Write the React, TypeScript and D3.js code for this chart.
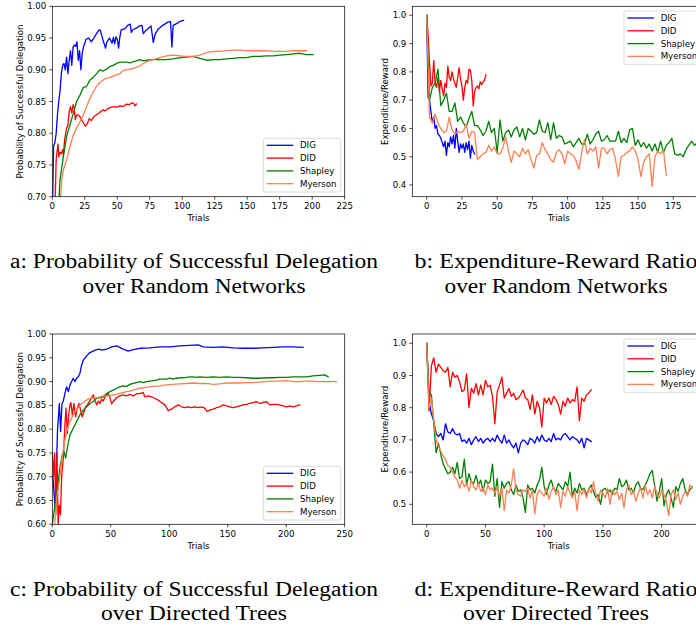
import React from "react";
import * as d3 from "d3";

type Pt = [number, number];

const seriesNames = ["DIG", "DID", "Shapley", "Myerson"];
const seriesColors = ["#0000ff", "#ff0000", "#008000", "#ff7f50"];

// (a) probability of successful delegation, random networks: [trial, value]
const aDig: Pt[] = [
  [0, 0.66], [1, 0.78], [2, 0.785], [3, 0.8], [4, 0.83], [5, 0.85], [6, 0.868], [7, 0.895], [8, 0.907], [9, 0.91],
  [10, 0.9], [11, 0.92], [12, 0.894], [13, 0.915], [14, 0.93], [15, 0.907], [16, 0.936], [17, 0.939], [18, 0.937],
  [19, 0.944], [20, 0.915], [21, 0.93], [22, 0.9], [23, 0.926], [24, 0.936], [26, 0.948], [28, 0.95], [30, 0.944],
  [32, 0.95], [34, 0.957], [36, 0.963], [37, 0.962], [39, 0.947], [41, 0.934], [42, 0.944], [44, 0.95], [46, 0.942],
  [47, 0.951], [48, 0.941], [49, 0.952], [50, 0.948], [51, 0.934], [52, 0.952], [53, 0.963], [56, 0.965], [58, 0.97],
  [60, 0.972], [60.8, 0.959], [62, 0.963], [65, 0.966], [67, 0.969], [69, 0.97], [70, 0.957], [72, 0.962], [76, 0.969],
  [77.7, 0.943], [79, 0.955], [81, 0.963], [85, 0.97], [89, 0.975], [91, 0.976], [92, 0.936], [93, 0.97], [96, 0.973],
  [98, 0.976], [101, 0.978],
];
const aDid: Pt[] = [
  [2, 0.68], [3, 0.76], [4.4, 0.783], [5, 0.763], [6, 0.77], [7, 0.768], [8, 0.774], [8.5, 0.765], [9.5, 0.79],
  [11, 0.808], [12, 0.812], [13, 0.834], [14, 0.842], [15, 0.832], [16, 0.845], [17, 0.838], [17.7, 0.821],
  [18.7, 0.829], [20, 0.829], [22, 0.824], [23.5, 0.818], [25.4, 0.811], [27, 0.815], [28.4, 0.823], [30, 0.82],
  [32, 0.826], [34, 0.829], [36, 0.832], [39, 0.837], [40.5, 0.835], [43, 0.839], [45.6, 0.841], [48, 0.842],
  [50, 0.841], [52, 0.843], [54.6, 0.842], [57.2, 0.846], [59, 0.845], [61.8, 0.848], [63, 0.846], [63.6, 0.843],
  [64.8, 0.846],
];
const aShapley: Pt[] = [
  [5, 0.69], [5.9, 0.726], [8.5, 0.763], [11, 0.795], [13.6, 0.813], [16.1, 0.831], [18.7, 0.85], [21.3, 0.86],
  [23.8, 0.872], [26.4, 0.874], [29, 0.884], [31.5, 0.888], [34.1, 0.894], [36.6, 0.9], [39.2, 0.898], [41.8, 0.901],
  [44.3, 0.905], [46.9, 0.907], [49.5, 0.91], [52, 0.912], [57, 0.912], [60, 0.911], [62.3, 0.913], [64.8, 0.914],
  [67.4, 0.916], [70, 0.914], [72.5, 0.915], [77.6, 0.916], [82.8, 0.916], [88, 0.916], [93, 0.917], [98.2, 0.919],
  [103.3, 0.92], [108.4, 0.921], [113.5, 0.918], [118.7, 0.915], [123.8, 0.916], [128.9, 0.916], [134, 0.917],
  [139.2, 0.918], [144.3, 0.919], [149.4, 0.919], [154.5, 0.921], [159.7, 0.921], [164.8, 0.922], [170, 0.922],
  [175.1, 0.923], [180.2, 0.924], [185.3, 0.925], [190.4, 0.926], [195.5, 0.924], [200.7, 0.924],
];
const aMyerson: Pt[] = [
  [6, 0.69], [7.2, 0.726], [8.5, 0.742], [11, 0.758], [13.6, 0.779], [16.1, 0.797], [18.7, 0.808], [21.3, 0.818],
  [23.8, 0.829], [26.4, 0.842], [29, 0.855], [31.5, 0.865], [34.1, 0.874], [36.6, 0.88], [39.2, 0.884], [41.8, 0.887],
  [44.3, 0.888], [46.9, 0.89], [49.5, 0.892], [52, 0.894], [54.6, 0.899], [57.2, 0.9], [62.3, 0.902], [67.4, 0.906],
  [72.5, 0.913], [77.6, 0.916], [82.8, 0.919], [87.9, 0.922], [93, 0.923], [98.2, 0.922], [103.3, 0.921],
  [108.4, 0.921], [113.5, 0.923], [118.7, 0.927], [123.8, 0.929], [128.9, 0.929], [134, 0.93], [139.2, 0.931],
  [144.3, 0.931], [149.4, 0.93], [154.5, 0.93], [159.7, 0.93], [164.8, 0.93], [170, 0.929], [175.1, 0.929],
  [180.2, 0.929], [185.3, 0.93], [190.4, 0.93], [195.5, 0.93],
];

// (b) expenditure/reward, random networks: one value per trial step
const bDig = [
  1.0, 0.71, 0.7, 0.66, 0.62, 0.64, 0.6, 0.61, 0.58, 0.575, 0.565, 0.55, 0.535, 0.555, 0.505, 0.55, 0.535, 0.57,
  0.545, 0.575, 0.53, 0.6, 0.555, 0.515, 0.545, 0.53, 0.545, 0.515, 0.55, 0.525, 0.555, 0.495, 0.54, 0.52, 0.51,
];
const bDid = [
  1.0, 0.93, 0.83, 0.75, 0.76, 0.84, 0.76, 0.745, 0.78, 0.73, 0.77, 0.74, 0.715, 0.76, 0.745, 0.82, 0.78, 0.77, 0.8,
  0.775, 0.76, 0.745, 0.78, 0.815, 0.775, 0.75, 0.7, 0.745, 0.77, 0.76, 0.81, 0.805, 0.77, 0.68, 0.73, 0.745, 0.75,
  0.74, 0.765, 0.755, 0.765, 0.77, 0.79,
];
const bShapley = [
  1.0, 0.7, 0.745, 0.76, 0.81, 0.68, 0.7, 0.725, 0.66, 0.66,
  0.69, 0.625, 0.64, 0.62, 0.605, 0.635, 0.66, 0.61, 0.61, 0.595,
  0.575, 0.59, 0.625, 0.585, 0.6, 0.515, 0.63, 0.555, 0.585, 0.595,
  0.57, 0.595, 0.605, 0.57, 0.6, 0.56, 0.6, 0.59, 0.58, 0.585,
  0.63, 0.59, 0.585, 0.62, 0.56, 0.62, 0.565, 0.575, 0.57, 0.545,
  0.55, 0.555, 0.535, 0.55, 0.565, 0.545, 0.545, 0.58, 0.545, 0.56,
  0.58, 0.59, 0.555, 0.56, 0.575, 0.555, 0.555, 0.555, 0.59, 0.55,
  0.565, 0.55, 0.595, 0.6, 0.54, 0.56, 0.535, 0.55, 0.53, 0.545,
  0.52, 0.545, 0.515, 0.555, 0.515, 0.54, 0.55, 0.565, 0.51, 0.505,
  0.51, 0.5, 0.525, 0.54, 0.555, 0.54, 0.55, 0.53, 0.545, 0.54,
];
const bMyerson = [
  1.0, 0.64, 0.62, 0.65, 0.62, 0.6, 0.585, 0.59, 0.64, 0.595,
  0.58, 0.59, 0.585, 0.59, 0.615, 0.565, 0.59, 0.585, 0.49, 0.5,
  0.51, 0.515, 0.54, 0.52, 0.535, 0.51, 0.51, 0.53, 0.57, 0.52,
  0.48, 0.52, 0.51, 0.5, 0.53, 0.51, 0.525, 0.49, 0.46, 0.505,
  0.51, 0.55, 0.525, 0.51, 0.49, 0.48, 0.515, 0.525, 0.51, 0.475,
  0.52, 0.51, 0.505, 0.485, 0.455, 0.515, 0.56, 0.51, 0.53, 0.52,
  0.535, 0.46, 0.53, 0.53, 0.51, 0.525, 0.53, 0.49, 0.43, 0.5,
  0.505, 0.515, 0.52, 0.535, 0.52, 0.49, 0.43, 0.48, 0.5, 0.51,
  0.395, 0.5, 0.52, 0.51, 0.525, 0.435,
];
const bStepShort = 1;
const bStepLong = 2;

// (c) probability of successful delegation, directed trees: [trial, value]
const cDig: Pt[] = [
  [0.5, 0.7], [2.3, 0.637], [3.5, 0.72], [4.5, 0.8], [6, 0.854], [7.1, 0.795], [8.3, 0.854], [9.4, 0.859],
  [10.8, 0.875], [12.2, 0.889], [13.7, 0.879], [15.1, 0.893], [16.5, 0.9], [17.9, 0.907], [19.4, 0.9], [20.8, 0.907],
  [22.2, 0.91], [23.6, 0.917], [25.1, 0.935], [26.5, 0.945], [29.3, 0.954], [32.2, 0.961], [35, 0.964], [37.9, 0.967],
  [40.7, 0.968], [42.1, 0.966], [46.4, 0.968], [50.7, 0.973], [55, 0.975], [57.8, 0.972], [60.6, 0.968],
  [64.9, 0.964], [69.2, 0.967], [74.9, 0.97], [83.4, 0.971], [92, 0.973], [100.5, 0.973], [109, 0.975],
  [117.5, 0.976], [124.7, 0.977], [129, 0.973], [137.5, 0.972], [146, 0.973], [154.6, 0.971], [163.1, 0.97],
  [171.7, 0.97], [180.2, 0.971], [188.8, 0.972], [197.3, 0.973], [205.9, 0.973], [214.4, 0.972],
];
const cDid: Pt[] = [
  [0, 0.75], [1, 0.7], [2, 0.75], [3, 0.62], [4, 0.75], [5, 0.6], [6, 0.64], [7, 0.62], [8, 0.7], [9.4, 0.739],
  [10.8, 0.809], [11.7, 0.844], [12.8, 0.791], [14, 0.83], [15.1, 0.851], [15.9, 0.856], [17.1, 0.83], [18.5, 0.854],
  [19.9, 0.826], [21.4, 0.844], [22.8, 0.854], [24.2, 0.84], [25.6, 0.826], [27, 0.836], [28.5, 0.847], [29.9, 0.85],
  [31.6, 0.858], [33.6, 0.866], [35, 0.872], [36.4, 0.861], [37.9, 0.851], [39.3, 0.859], [40.7, 0.854],
  [42.1, 0.863], [43.6, 0.859], [45, 0.868], [46.4, 0.872], [47.8, 0.875], [49.3, 0.866], [50.7, 0.853],
  [52.1, 0.858], [55, 0.866], [57.8, 0.87], [60.6, 0.872], [63.4, 0.87], [66.3, 0.873], [69.2, 0.87], [72, 0.874],
  [74.9, 0.875], [77.7, 0.877], [79.1, 0.868], [82, 0.87], [84.8, 0.868], [87.7, 0.865], [90.5, 0.861],
  [93.4, 0.856], [96.2, 0.851], [99.1, 0.839], [101.9, 0.842], [104.8, 0.847], [107.6, 0.851], [110.5, 0.847],
  [113.3, 0.845], [116.2, 0.847], [119, 0.845], [121.9, 0.847], [124.7, 0.845], [127.6, 0.847], [130.4, 0.844],
  [132.4, 0.837], [134.7, 0.84], [137.5, 0.842], [140.4, 0.845], [143.2, 0.847], [146.1, 0.851], [148.9, 0.849],
  [151.8, 0.847], [154.6, 0.845], [157.5, 0.847], [160.3, 0.849], [163.1, 0.851], [166, 0.852], [168.8, 0.854],
  [171.7, 0.856], [174.5, 0.858], [177.4, 0.854], [180.2, 0.856], [183.1, 0.858], [185.9, 0.851], [188.8, 0.852],
  [191.6, 0.852], [194.5, 0.851], [197.3, 0.849], [200.2, 0.847], [203, 0.849], [205.9, 0.847], [208.7, 0.849],
  [211.6, 0.851],
];
const cShapley: Pt[] = [
  [0, 0.6], [2.3, 0.64], [4.3, 0.676], [6.5, 0.718], [8.5, 0.746], [10, 0.753], [11.4, 0.739], [12.8, 0.76],
  [15.1, 0.788], [17.9, 0.802], [20.8, 0.816], [23.6, 0.83], [26.5, 0.84], [29.3, 0.847], [32.2, 0.854], [35, 0.858],
  [37.9, 0.865], [40.7, 0.866], [43.6, 0.868], [46.4, 0.875], [49.3, 0.879], [52.1, 0.882], [55, 0.886],
  [57.8, 0.889], [60.6, 0.891], [63.4, 0.89], [66.3, 0.894], [69.2, 0.896], [72, 0.898], [74.9, 0.9], [77.7, 0.898],
  [80.6, 0.9], [83.4, 0.901], [86.3, 0.902], [89.1, 0.903], [92, 0.905], [94.8, 0.905], [97.6, 0.905],
  [100.5, 0.907], [103.3, 0.905], [106.2, 0.907], [109, 0.908], [111.9, 0.908], [114.7, 0.909], [117.5, 0.91],
  [120.4, 0.91], [123.2, 0.909], [126.1, 0.91], [131.8, 0.909], [137.5, 0.91], [143.2, 0.909], [148.9, 0.91],
  [154.6, 0.909], [160.3, 0.909], [166, 0.908], [171.7, 0.907], [177.4, 0.907], [183.1, 0.908], [188.8, 0.908],
  [194.5, 0.909], [200.2, 0.909], [205.9, 0.91], [211.6, 0.91], [217.3, 0.91], [223, 0.912], [228.6, 0.913],
  [232.9, 0.914], [235.8, 0.91],
];
const cMyerson: Pt[] = [
  [2, 0.6], [3.7, 0.655], [6, 0.69], [8, 0.732], [10, 0.767], [12.2, 0.795], [15.1, 0.816], [17.9, 0.83],
  [20.8, 0.84], [23.6, 0.851], [26.5, 0.856], [29.3, 0.861], [32.2, 0.865], [35, 0.865], [37.9, 0.866],
  [40.7, 0.868], [43.6, 0.87], [46.4, 0.87], [49.3, 0.87], [52.1, 0.872], [55, 0.873], [57.8, 0.875], [60.6, 0.877],
  [63.4, 0.879], [66.3, 0.88], [69.2, 0.882], [74.9, 0.886], [80.6, 0.888], [86.3, 0.89], [92, 0.891],
  [97.6, 0.893], [103.3, 0.894], [109, 0.895], [114.7, 0.896], [120.4, 0.897], [126.1, 0.896], [131.8, 0.896],
  [137.5, 0.894], [143.2, 0.895], [148.9, 0.897], [154.6, 0.897], [160.3, 0.897], [166, 0.898], [171.7, 0.898],
  [177.4, 0.899], [183.1, 0.9], [188.8, 0.901], [194.5, 0.901], [200.2, 0.902], [205.9, 0.9], [211.6, 0.9],
  [217.3, 0.901], [223, 0.901], [228.6, 0.9], [234.3, 0.9], [240.1, 0.9], [243, 0.9],
];

// (d) expenditure/reward, directed trees: one value every 2 trials
const dDig = [
  1.0, 0.82, 0.78, 0.76, 0.72, 0.71, 0.72, 0.7, 0.75, 0.725,
  0.72, 0.735, 0.72, 0.715, 0.72, 0.695, 0.7, 0.69, 0.705, 0.685,
  0.7, 0.71, 0.695, 0.705, 0.69, 0.7, 0.705, 0.695, 0.705, 0.695,
  0.715, 0.7, 0.69, 0.715, 0.69, 0.7, 0.685, 0.675, 0.69, 0.66,
  0.69, 0.7, 0.695, 0.685, 0.705, 0.7, 0.69, 0.71, 0.695, 0.715,
  0.7, 0.695, 0.705, 0.695, 0.72, 0.7, 0.705, 0.7, 0.715, 0.72,
  0.71, 0.7, 0.71, 0.705, 0.7, 0.69, 0.705, 0.675, 0.705, 0.7,
  0.695,
];
const dDid = [
  1.0, 0.79, 0.93, 0.955, 0.91, 0.935, 0.925, 0.915, 0.91, 0.925,
  0.865, 0.91, 0.895, 0.9, 0.88, 0.85, 0.855, 0.905, 0.8, 0.86,
  0.845, 0.875, 0.84, 0.87, 0.84, 0.885, 0.865, 0.87, 0.835, 0.75,
  0.85, 0.87, 0.895, 0.83, 0.845, 0.86, 0.835, 0.845, 0.825, 0.83,
  0.84, 0.855, 0.83, 0.825, 0.795, 0.84, 0.78, 0.82, 0.8, 0.74,
  0.83, 0.815, 0.83, 0.81, 0.835, 0.825, 0.81, 0.78, 0.82, 0.805,
  0.83, 0.815, 0.825, 0.82, 0.865, 0.76, 0.83, 0.82, 0.84, 0.845,
  0.855,
];
const dShapley = [
  1.0, 0.85, 0.84, 0.75, 0.66, 0.69, 0.655, 0.625, 0.61, 0.595,
  0.6, 0.615, 0.595, 0.63, 0.58, 0.585, 0.64, 0.56, 0.595, 0.57,
  0.565, 0.59, 0.56, 0.575, 0.54, 0.575, 0.565, 0.57, 0.625, 0.525,
  0.58, 0.49, 0.57, 0.55, 0.565, 0.57, 0.545, 0.53, 0.56, 0.54,
  0.545, 0.52, 0.475, 0.56, 0.545, 0.55, 0.535, 0.56, 0.575, 0.615,
  0.555, 0.53, 0.56, 0.575, 0.55, 0.54, 0.565, 0.555, 0.545, 0.57,
  0.555, 0.6, 0.525, 0.55, 0.535, 0.565, 0.545, 0.55, 0.53, 0.545,
  0.56, 0.54, 0.52, 0.53, 0.5, 0.545, 0.55, 0.535, 0.545, 0.53,
  0.55, 0.545, 0.58, 0.555, 0.56, 0.575, 0.545, 0.55, 0.535, 0.56,
  0.57, 0.55, 0.545, 0.56, 0.575, 0.595, 0.605, 0.56, 0.51, 0.54,
  0.58, 0.495, 0.53, 0.545, 0.52, 0.49, 0.555, 0.54, 0.565, 0.58,
  0.545, 0.53, 0.545, 0.555,
];
const dMyerson = [
  1.0, 0.8, 0.83, 0.76, 0.7, 0.68, 0.665, 0.65, 0.64, 0.62,
  0.615, 0.6, 0.585, 0.575, 0.55, 0.575, 0.555, 0.565, 0.54, 0.575,
  0.555, 0.545, 0.565, 0.54, 0.55, 0.53, 0.56, 0.545, 0.55, 0.535,
  0.555, 0.525, 0.55, 0.48, 0.545, 0.535, 0.56, 0.61, 0.545, 0.53,
  0.525, 0.545, 0.54, 0.55, 0.52, 0.545, 0.47, 0.53, 0.545, 0.535,
  0.525, 0.55, 0.515, 0.54, 0.555, 0.53, 0.545, 0.49, 0.54, 0.525,
  0.555, 0.535, 0.52, 0.54, 0.48, 0.545, 0.53, 0.545, 0.52, 0.55,
  0.535, 0.57, 0.53, 0.51, 0.545, 0.535, 0.52, 0.55, 0.5, 0.545,
  0.53, 0.54, 0.515, 0.535, 0.49, 0.545, 0.56, 0.53, 0.54, 0.51,
  0.535, 0.55, 0.52, 0.56, 0.53, 0.545, 0.52, 0.555, 0.535, 0.52,
  0.545, 0.53, 0.51, 0.465, 0.53, 0.545, 0.515, 0.535, 0.5, 0.525,
  0.54, 0.525, 0.56, 0.55,
];
const dStep = 2;

const aXTicks = [0, 25, 50, 75, 100, 125, 150, 175, 200, 225];
const aYTicks = [0.7, 0.75, 0.8, 0.85, 0.9, 0.95, 1.0];
const bXTicks = [0, 25, 50, 75, 100, 125, 150, 175];
const bYTicks = [0.4, 0.5, 0.6, 0.7, 0.8, 0.9, 1.0];
const cXTicks = [0, 50, 100, 150, 200, 250];
const cYTicks = [0.6, 0.65, 0.7, 0.75, 0.8, 0.85, 0.9, 0.95, 1.0];
const dXTicks = [0, 50, 100, 150, 200];
const dYTicks = [0.5, 0.6, 0.7, 0.8, 0.9, 1.0];

const probLabel = "Probability of Successful Delegation";
const ratioLabel = "Expenditure/Reward";

const captions = [
  { x: 194, y: 268, text: "a: Probability of Successful Delegation", len: 368 },
  { x: 194, y: 293, text: "over Random Networks", len: 223 },
  { x: 556, y: 268, text: "b: Expenditure-Reward Ratio", len: 283 },
  { x: 556, y: 293, text: "over Random Networks", len: 223 },
  { x: 194, y: 596, text: "c: Probability of Successful Delegation", len: 368 },
  { x: 194, y: 620, text: "over Directed Trees", len: 186 },
  { x: 556, y: 596, text: "d: Expenditure-Reward Ratio", len: 283 },
  { x: 556, y: 620, text: "over Directed Trees", len: 186 },
];

const stepped = (ys: number[], step: number): Pt[] => ys.map((v, i) => [i * step, v]);

const FONT = "DejaVu Sans";
const FS = 8.6;

const panels = [
  {
    id: "pa", left: 52.3, right: 344.7, top: 6.3, bottom: 196.7,
    xDomain: [0, 225], yDomain: [0.7, 1.0], xTicks: aXTicks, yTicks: aYTicks, yFmt: ".2f",
    yLabel: probLabel, yLabelX: 19.5, legend: [263.3, 138.3],
    series: [aDig, aDid, aShapley, aMyerson],
  },
  {
    id: "pb", left: 412.3, right: 705, top: 6.3, bottom: 196.7,
    xDomain: [-10.22, 197.5], yDomain: [0.3586, 1.0318], xTicks: bXTicks, yTicks: bYTicks, yFmt: ".1f",
    yLabel: ratioLabel, yLabelX: 385, legend: [624, 11],
    series: [stepped(bDig, bStepShort), stepped(bDid, bStepShort), stepped(bShapley, bStepLong), stepped(bMyerson, bStepLong)],
  },
  {
    id: "pc", left: 52.3, right: 344.7, top: 334, bottom: 524.3,
    xDomain: [0, 250], yDomain: [0.6, 1.0], xTicks: cXTicks, yTicks: cYTicks, yFmt: ".2f",
    yLabel: probLabel, yLabelX: 19.5, legend: [263.3, 466.3],
    series: [cDig, cDid, cShapley, cMyerson],
  },
  {
    id: "pd", left: 412.3, right: 705, top: 334, bottom: 524.3,
    xDomain: [-12.26, 236.9], yDomain: [0.4379, 1.0289], xTicks: dXTicks, yTicks: dYTicks, yFmt: ".1f",
    yLabel: ratioLabel, yLabelX: 385, legend: [624, 339],
    series: [stepped(dDig, dStep), stepped(dDid, dStep), stepped(dShapley, dStep), stepped(dMyerson, dStep)],
  },
];

function Panel({ p }: { p: any }) {
  const x = d3.scaleLinear().domain(p.xDomain).range([p.left, p.right]);
  const y = d3.scaleLinear().domain(p.yDomain).range([p.bottom, p.top]);
  const line = d3.line<Pt>().x(d => x(d[0])).y(d => y(d[1]));
  const fmt = d3.format(p.yFmt);
  const [lx, ly] = p.legend;

  return (
    <g fontFamily={FONT} fontSize={FS} fill="#000">
      <clipPath id={p.id}>
        <rect x={p.left} y={p.top} width={p.right - p.left} height={p.bottom - p.top} />
      </clipPath>
      <g clipPath={`url(#${p.id})`}>
        {p.series.map((s: Pt[], i: number) => (
          <path key={i} d={line(s) || ""} fill="none" stroke={seriesColors[i]}
            strokeWidth={1.3} strokeLinejoin="round" strokeLinecap="square" />
        ))}
      </g>
      <rect x={p.left} y={p.top} width={p.right - p.left} height={p.bottom - p.top}
        fill="none" stroke="#000" strokeWidth={0.7} />

      {p.xTicks.map((t: number) => (
        <g key={"x" + t}>
          <line x1={x(t)} x2={x(t)} y1={p.bottom} y2={p.bottom + 3} stroke="#000" strokeWidth={0.7} />
          <text x={x(t)} y={p.bottom + 12.4} textAnchor="middle">{t}</text>
        </g>
      ))}
      {p.yTicks.map((t: number) => (
        <g key={"y" + t}>
          <line x1={p.left - 3} x2={p.left} y1={y(t)} y2={y(t)} stroke="#000" strokeWidth={0.7} />
          <text x={p.left - 6} y={y(t)} dy="0.36em" textAnchor="end">{fmt(t)}</text>
        </g>
      ))}
      <text x={(p.left + p.right) / 2} y={p.bottom + 24.5} textAnchor="middle">Trials</text>
      <text transform={`translate(${p.yLabelX},${(p.top + p.bottom) / 2}) rotate(-90)`}
        textAnchor="middle" dy="0.35em">{p.yLabel}</text>

      <g transform={`translate(${lx},${ly})`}>
        <rect x={0} y={0} width={77.4} height={53.7} rx={2} fill="#fff" fillOpacity={0.8}
          stroke="#cccccc" strokeWidth={0.7} />
        {seriesNames.map((n, i) => (
          <g key={n}>
            <line x1={3.4} x2={30} y1={7 + i * 12.8} y2={7 + i * 12.8} stroke={seriesColors[i]} strokeWidth={1.3} />
            <text x={36.7} y={7 + i * 12.8} dy="0.35em">{n}</text>
          </g>
        ))}
      </g>
    </g>
  );
}

export default function App() {
  return (
    <svg width={696} height={627} style={{ position: "absolute", left: 0, top: 0, background: "#fff" }}>
      <rect x={0} y={0} width={696} height={627} fill="#fff" />
      {panels.map(p => <Panel key={p.id} p={p} />)}
      {captions.map((c, i) => (
        <text key={i} x={c.x} y={c.y} textAnchor="middle" fontFamily="Liberation Serif" fontSize={20.8}
          textLength={c.len} lengthAdjust="spacingAndGlyphs" fill="#000">{c.text}</text>
      ))}
    </svg>
  );
}
